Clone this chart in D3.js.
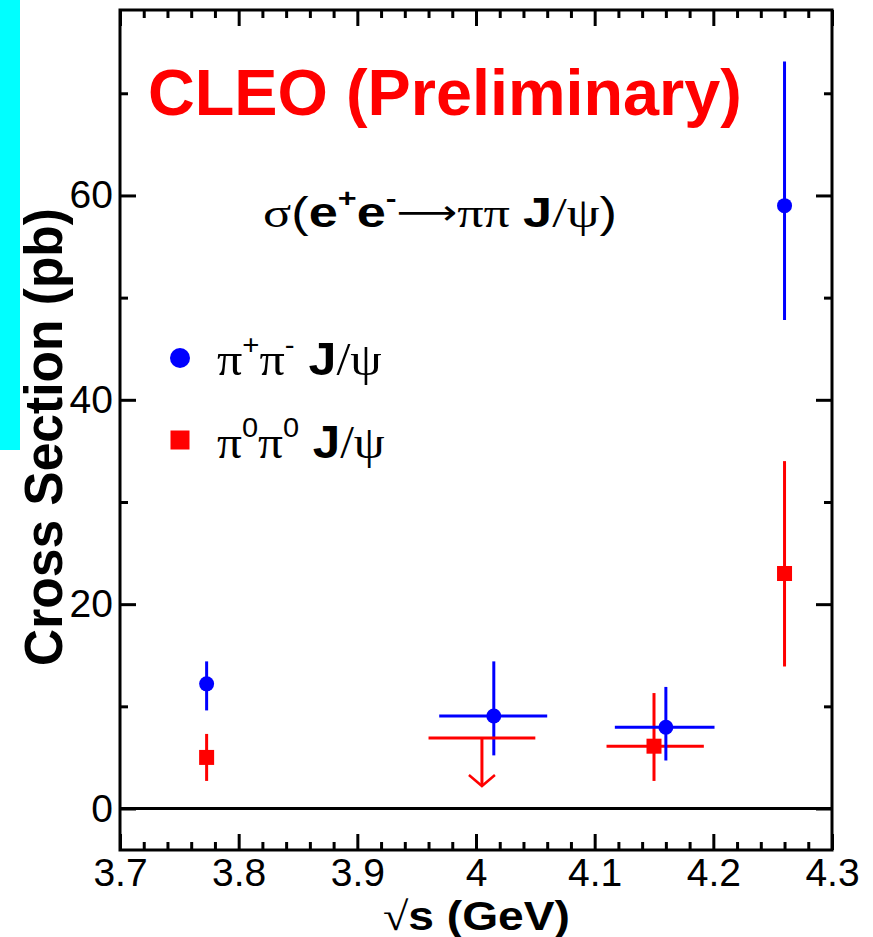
<!DOCTYPE html>
<html>
<head>
<meta charset="utf-8">
<script src="https://cdn.jsdelivr.net/npm/d3@7"></script>
<style>
  html, body { margin: 0; padding: 0; background: #fff; }
  svg { display: block; }
</style>
</head>
<body>
<svg id="chart" width="873" height="937"></svg>
<script>
// Axis ticks
const xMajorTicks = [3.7, 3.8, 3.9, 4.0, 4.1, 4.2, 4.3];
const xTickLabels = ["3.7", "3.8", "3.9", "4", "4.1", "4.2", "4.3"];
const xMinorTicks = d3.range(3.72, 4.3, 0.02).filter(v => Math.abs(v * 10 - Math.round(v * 10)) > 1e-6);
const yMajorTicks = [0, 20, 40, 60];
const yMinorTicks = [10, 30, 50, 70];

// pi+ pi- J/psi cross sections (pb)
const pipiE = [3.773, 4.015, 4.160, 4.260];
const pipiELo = [3.773, 3.969, 4.117, 4.260];
const pipiEHi = [3.773, 4.060, 4.201, 4.260];
const pipiSigma = [12.2, 9.05, 7.95, 59.0];
const pipiSigmaLo = [9.6, 5.2, 4.7, 47.8];
const pipiSigmaHi = [14.4, 14.4, 11.9, 73.1];

// pi0 pi0 J/psi cross sections (pb)
const pi0E = [3.773, 4.150, 4.260];
const pi0ELo = [3.773, 4.110, 4.260];
const pi0EHi = [3.773, 4.192, 4.260];
const pi0Sigma = [5.0, 6.1, 23.0];
const pi0SigmaLo = [2.7, 2.7, 13.9];
const pi0SigmaHi = [7.3, 11.3, 34.0];

// pi0 pi0 J/psi upper limit near 4.0 GeV
const ulE = [4.005];
const ulELo = [3.960];
const ulEHi = [4.050];
const ulSigma = [6.9];
const ulArrowTip = [2.2];

const BLUE = "#0000ff", RED = "#ff0000";
const SANS = "'Liberation Sans', Arial, Helvetica, sans-serif";
const SERIF = "'Liberation Serif', 'Times New Roman', serif";

const svg = d3.select("#chart");
const L = 120, R = 832, T = 10, B = 850;

const x = d3.scaleLinear().domain([3.7, 4.3]).range([L, R]);
const y = d3.scaleLinear().domain([-4.06, 78.15]).range([B, T]);

svg.append("rect").attr("width", 873).attr("height", 937).attr("fill", "#fff");
// side bar
svg.append("rect").attr("x", 0).attr("y", 0).attr("width", 20).attr("height", 450).attr("fill", "#00ffff");

// axes
function styleAxis(g) {
  g.select(".domain").remove();
  g.selectAll(".tick line").attr("stroke", "#000").attr("stroke-width", 3);
  g.selectAll(".tick text").attr("fill", "#000").attr("font-family", SANS).attr("font-size", 39);
}
const MAJ = 16, MIN = 8;

svg.append("g").attr("transform", `translate(0,${B})`)
  .call(d3.axisBottom(x).tickValues(xMajorTicks).tickSizeInner(-MAJ).tickSizeOuter(0).tickPadding(8)
    .tickFormat((d, i) => xTickLabels[i]))
  .call(styleAxis);
svg.append("g").attr("transform", `translate(0,${B})`)
  .call(d3.axisBottom(x).tickValues(xMinorTicks).tickSizeInner(-MIN).tickSizeOuter(0).tickFormat(""))
  .call(styleAxis);
svg.append("g").attr("transform", `translate(0,${T})`)
  .call(d3.axisTop(x).tickValues(xMajorTicks).tickSizeInner(-MAJ).tickSizeOuter(0).tickFormat(""))
  .call(styleAxis);
svg.append("g").attr("transform", `translate(0,${T})`)
  .call(d3.axisTop(x).tickValues(xMinorTicks).tickSizeInner(-MIN).tickSizeOuter(0).tickFormat(""))
  .call(styleAxis);

svg.append("g").attr("transform", `translate(${L},0)`)
  .call(d3.axisLeft(y).tickValues(yMajorTicks).tickSizeInner(-MAJ).tickSizeOuter(0).tickPadding(7)
    .tickFormat(d3.format("d")))
  .call(styleAxis);
svg.append("g").attr("transform", `translate(${L},0)`)
  .call(d3.axisLeft(y).tickValues(yMinorTicks).tickSizeInner(-MIN).tickSizeOuter(0).tickFormat(""))
  .call(styleAxis);
svg.append("g").attr("transform", `translate(${R},0)`)
  .call(d3.axisRight(y).tickValues(yMajorTicks).tickSizeInner(-MAJ).tickSizeOuter(0).tickFormat(""))
  .call(styleAxis);
svg.append("g").attr("transform", `translate(${R},0)`)
  .call(d3.axisRight(y).tickValues(yMinorTicks).tickSizeInner(-MIN).tickSizeOuter(0).tickFormat(""))
  .call(styleAxis);

// frame and zero line
svg.append("rect").attr("x", L).attr("y", T).attr("width", R - L).attr("height", B - T)
  .attr("fill", "none").attr("stroke", "#000").attr("stroke-width", 3);
svg.append("line").attr("x1", L).attr("x2", R).attr("y1", y(0)).attr("y2", y(0))
  .attr("stroke", "#000").attr("stroke-width", 3);

// error bars and markers
function drawSeries(E, ELo, EHi, S, SLo, SHi, color, marker) {
  const g = svg.append("g");
  const idx = d3.range(E.length);
  g.selectAll("line.v").data(idx).join("line")
    .attr("x1", i => x(E[i])).attr("x2", i => x(E[i]))
    .attr("y1", i => y(SHi[i])).attr("y2", i => y(SLo[i]))
    .attr("stroke", color).attr("stroke-width", 3);
  g.selectAll("line.h").data(idx.filter(i => EHi[i] > ELo[i])).join("line")
    .attr("x1", i => x(ELo[i])).attr("x2", i => x(EHi[i]))
    .attr("y1", i => y(S[i])).attr("y2", i => y(S[i]))
    .attr("stroke", color).attr("stroke-width", 3);
  if (marker === "circle") {
    g.selectAll("circle").data(idx).join("circle")
      .attr("cx", i => x(E[i])).attr("cy", i => y(S[i])).attr("r", 7.5).attr("fill", color);
  } else {
    g.selectAll("rect").data(idx).join("rect")
      .attr("x", i => x(E[i]) - 7.5).attr("y", i => y(S[i]) - 7.5)
      .attr("width", 15).attr("height", 15).attr("fill", color);
  }
}
drawSeries(pi0E, pi0ELo, pi0EHi, pi0Sigma, pi0SigmaLo, pi0SigmaHi, RED, "square");
drawSeries(pipiE, pipiELo, pipiEHi, pipiSigma, pipiSigmaLo, pipiSigmaHi, BLUE, "circle");

// upper limit with downward arrow
const ul = svg.append("g");
ulE.forEach((e, i) => {
  const tx = x(e), ty = y(ulArrowTip[i]);
  ul.append("line").attr("x1", x(ulELo[i])).attr("x2", x(ulEHi[i]))
    .attr("y1", y(ulSigma[i])).attr("y2", y(ulSigma[i])).attr("stroke", RED).attr("stroke-width", 3);
  ul.append("line").attr("x1", tx).attr("x2", tx)
    .attr("y1", y(ulSigma[i])).attr("y2", ty).attr("stroke", RED).attr("stroke-width", 3);
  ul.append("path").attr("d", `M${tx - 13},${ty - 11} L${tx},${ty} L${tx + 13},${ty - 11}`)
    .attr("fill", "none").attr("stroke", RED).attr("stroke-width", 2.5);
});

// stretch a text block horizontally so it spans [x0, x0 + width]
function fitText(sel, x0, width) {
  const bb = sel.node().getBBox();
  const k = width / bb.width;
  sel.attr("transform", `translate(${x0},0) scale(${k},1) translate(${-bb.x},0)`);
}

// experiment label
const title = svg.append("text").attr("x", 0).attr("y", 115)
  .attr("font-family", SANS).attr("font-weight", "bold").attr("font-size", 65).attr("fill", RED)
  .text("CLEO (Preliminary)");
fitText(title, 148, 594);

// process label: sigma(e+e- -> pi pi J/psi)
const proc = svg.append("text").attr("x", 0).attr("y", 227).attr("fill", "#000").attr("font-size", 42);
proc.append("tspan").attr("font-family", SERIF).text("σ");
proc.append("tspan").attr("font-family", SANS).text("(");
proc.append("tspan").attr("font-family", SANS).attr("font-weight", "bold").text("e");
proc.append("tspan").attr("font-family", SANS).attr("font-weight", "bold").attr("font-size", 26).attr("dy", -20).text("+");
proc.append("tspan").attr("font-family", SANS).attr("font-weight", "bold").attr("dy", 20).text("e");
proc.append("tspan").attr("font-family", SANS).attr("font-weight", "bold").attr("font-size", 26).attr("dy", -20).text("-");
proc.append("tspan").attr("font-family", "'DejaVu Sans', sans-serif").attr("font-weight", "normal")
  .attr("font-size", 34).attr("dy", 17).text("⟶");
proc.append("tspan").attr("font-family", SERIF).attr("dy", 3).text("ππ ");
proc.append("tspan").attr("font-family", SANS).attr("font-weight", "bold").text("J");
proc.append("tspan").attr("font-family", SERIF).text("/ψ");
proc.append("tspan").attr("font-family", SANS).text(")");
fitText(proc, 263, 354);

// legend
svg.append("circle").attr("cx", 180).attr("cy", 358).attr("r", 10).attr("fill", BLUE);
svg.append("rect").attr("x", 170.5).attr("y", 430.5).attr("width", 19).attr("height", 19).attr("fill", RED);

function legendLabel(baseline, sup1, sup2) {
  const t = svg.append("text").attr("x", 0).attr("y", baseline).attr("fill", "#000").attr("font-size", 46);
  t.append("tspan").attr("font-family", SERIF).text("π");
  t.append("tspan").attr("font-family", SANS).attr("font-size", 27).attr("dy", -21).text(sup1);
  t.append("tspan").attr("font-family", SERIF).attr("dy", 21).text("π");
  t.append("tspan").attr("font-family", SANS).attr("font-size", 27).attr("dy", -21).text(sup2);
  t.append("tspan").attr("font-family", SANS).attr("font-weight", "bold").attr("dy", 21).text(" J");
  t.append("tspan").attr("font-family", SERIF).text("/ψ");
  return t;
}
fitText(legendLabel(375, "+", "-"), 217, 165);
fitText(legendLabel(458, "0", "0"), 217, 168);

// axis titles
const xt = svg.append("text").attr("x", 0).attr("y", 930).attr("fill", "#000").attr("font-size", 40);
xt.append("tspan").attr("font-family", SERIF).text("√");
xt.append("tspan").attr("font-family", SANS).attr("font-weight", "bold").text("s (GeV)");
fitText(xt, 383, 187);

svg.append("text")
  .attr("transform", `translate(62,437) rotate(-90)`)
  .attr("text-anchor", "middle")
  .attr("font-family", SANS).attr("font-weight", "bold").attr("font-size", 53).attr("fill", "#000")
  .attr("textLength", 458).attr("lengthAdjust", "spacingAndGlyphs")
  .text("Cross Section (pb)");
</script>
</body>
</html>
